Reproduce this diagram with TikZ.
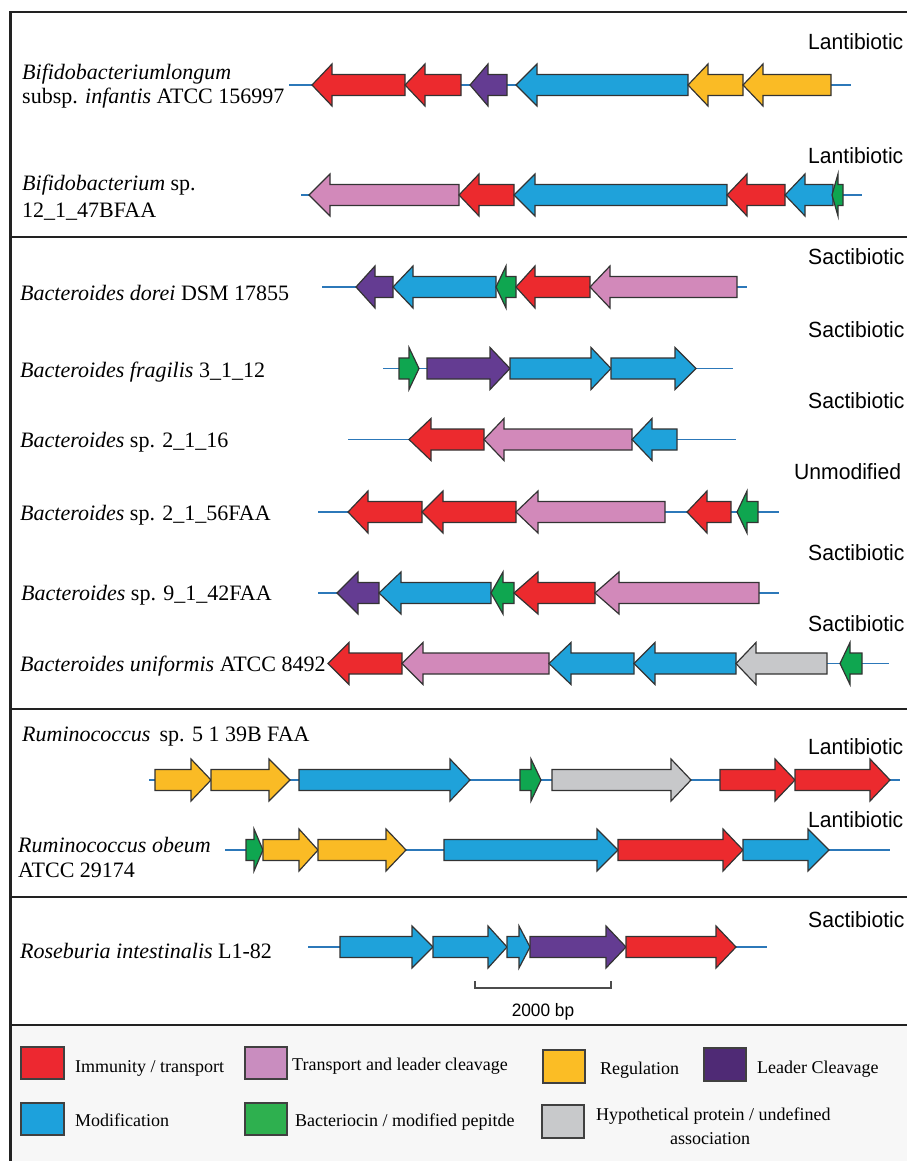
\documentclass[tikz,border=0pt]{standalone}
\usepackage{fontspec}
\usetikzlibrary{calc}
\setmainfont{Liberation Serif}
\newfontfamily\lblfont[FakeStretch=0.96]{Liberation Sans}
\definecolor{gRed}{HTML}{EC2A2E}
\definecolor{gBlue}{HTML}{1FA2DA}
\definecolor{gYellow}{HTML}{FABB25}
\definecolor{gPurple}{HTML}{643C92}
\definecolor{gPink}{HTML}{D289BA}
\definecolor{gGreen}{HTML}{0FA650}
\definecolor{gGray}{HTML}{C7C8CA}
\definecolor{kRed}{HTML}{ED2830}
\definecolor{kPink}{HTML}{C98DBF}
\definecolor{kYellow}{HTML}{FBBD25}
\definecolor{kPurple}{HTML}{4F2A75}
\definecolor{kBlue}{HTML}{1DA1DC}
\definecolor{kGreen}{HTML}{2EB04F}
\definecolor{kGray}{HTML}{C8C9CB}
\definecolor{dnaline}{HTML}{2C78B9}
\definecolor{framecol}{HTML}{222222}
\definecolor{legendbg}{HTML}{F7F7F7}
\tikzset{
  genestyle/.style={draw={black!80}, line width=1.2pt, line join=miter},
  dna/.style={draw=dnaline, line width=1.8pt},
  frameline/.style={draw=framecol, line width=2.6pt},
  species/.style={anchor=base west, inner sep=0pt, font=\fontsize{22}{24}\selectfont},
  classlbl/.style={anchor=base west, inner sep=0pt, font=\lblfont\fontsize{22}{24}\selectfont},
  legtext/.style={anchor=base west, inner sep=0pt, font=\fontsize{18}{20}\selectfont},
  legbox/.style={draw={black!75}, line width=1.2pt},
}
% #1 colour, #2 tail x, #3 head base x, #4 tip x, #5 y
\newcommand\genearrow[5]{\draw[genestyle,fill=#1] (#2,#5-10.5) -- (#3,#5-10.5) -- (#3,#5-21) -- (#4,#5) -- (#3,#5+21) -- (#3,#5+10.5) -- (#2,#5+10.5) -- cycle;}
\begin{document}
\begin{tikzpicture}[x=1pt,y=-1pt]
\useasboundingbox (0,0) rectangle (907,1161);
% legend background
\fill[legendbg] (10,1025) rectangle (907,1161);
% frame
\draw[frameline] (10.5,1161) -- (10.5,12) -- (907,12);
\draw[frameline] (10,237) -- (907,237);
\draw[frameline] (10,709) -- (907,709);
\draw[frameline] (10,897) -- (907,897);
\draw[frameline] (10,1025) -- (907,1025);

% ---------- Row 1 ----------
\node[species] (s1a) at (22,80) {\textit{Bifidobacteriumlongum}};
\node[species] (s1b) at (22,104) {subsp. \textit{infantis} ATCC 156997};
\node[classlbl] (c1) at (808,50) {Lantibiotic};
\draw[dna] (289,85) -- (851,85);
\genearrow{gRed}{405}{332}{312}{85}
\genearrow{gRed}{461}{425}{405}{85}
\genearrow{gPurple}{507}{488}{470}{85}
\genearrow{gBlue}{688}{537}{516}{85}
\genearrow{gYellow}{743}{708}{688}{85}
\genearrow{gYellow}{831}{763}{743}{85}

% ---------- Row 2 ----------
\node[species] (s2a) at (22,191) {\textit{Bifidobacterium} sp.};
\node[species] (s2b) at (22,217) {12\_1\_47BFAA};
\node[classlbl] (c2) at (808,164) {Lantibiotic};
\draw[dna] (301,195) -- (862,195);
\genearrow{gPink}{459}{330}{309}{195}
\genearrow{gRed}{514}{479}{459}{195}
\genearrow{gBlue}{727}{535}{514}{195}
\genearrow{gRed}{785}{747}{727}{195}
\genearrow{gBlue}{833}{805}{785}{195}
\genearrow{gGreen}{843}{838}{832}{195}

% ---------- Row 3 ----------
\node[species] (s3) at (20,300) {\textit{Bacteroides dorei} DSM 17855};
\node[classlbl] (c3) at (808,264) {Sactibiotic};
\draw[dna] (322,287) -- (747,287);
\genearrow{gPurple}{393}{375}{356}{287}
\genearrow{gBlue}{496}{413}{393}{287}
\genearrow{gGreen}{516}{506}{496}{287}
\genearrow{gRed}{590}{535}{516}{287}
\genearrow{gPink}{737}{610}{590}{287}

% ---------- Row 4 ----------
\node[species] (s4) at (20,377) {\textit{Bacteroides fragilis} 3\_1\_12};
\node[classlbl] (c4) at (808,337) {Sactibiotic};
\draw[dna] (383,368.5) -- (733,368.5);
\genearrow{gGreen}{399}{409}{419}{368.5}
\genearrow{gPurple}{427}{490}{510}{368.5}
\genearrow{gBlue}{510}{591}{611}{368.5}
\genearrow{gBlue}{611}{675}{696}{368.5}

% ---------- Row 5 ----------
\node[species] (s5) at (20,447) {\textit{Bacteroides} sp. 2\_1\_16};
\node[classlbl] (c5) at (808,408) {Sactibiotic};
\draw[dna] (348,439.5) -- (736,439.5);
\genearrow{gRed}{484}{431}{409}{439.5}
\genearrow{gPink}{632}{504}{484}{439.5}
\genearrow{gBlue}{677}{652}{632}{439.5}

% ---------- Row 6 ----------
\node[species] (s6) at (20,520) {\textit{Bacteroides} sp. 2\_1\_56FAA};
\node[classlbl] (c6) at (794,479) {Unmodified};
\draw[dna] (318,512) -- (779,512);
\genearrow{gRed}{422}{368}{348}{512}
\genearrow{gRed}{516}{443}{422}{512}
\genearrow{gPink}{665}{538}{516}{512}
\genearrow{gRed}{731}{707}{687}{512}
\genearrow{gGreen}{758}{747}{737}{512}

% ---------- Row 7 ----------
\node[species] (s7) at (21,600) {\textit{Bacteroides} sp. 9\_1\_42FAA};
\node[classlbl] (c7) at (808,560) {Sactibiotic};
\draw[dna] (318,593) -- (779,593);
\genearrow{gPurple}{379}{358}{337}{593}
\genearrow{gBlue}{491}{401}{379}{593}
\genearrow{gGreen}{514}{503}{491}{593}
\genearrow{gRed}{595}{538}{514}{593}
\genearrow{gPink}{759}{619}{595}{593}

% ---------- Row 8 ----------
\node[species] (s8) at (20,671) {\textit{Bacteroides uniformis} ATCC 8492};
\node[classlbl] (c8) at (808,631) {Sactibiotic};
\draw[dna] (330,663.5) -- (889,663.5);
\genearrow{gRed}{402}{349}{328}{663.5}
\genearrow{gPink}{549}{423}{402}{663.5}
\genearrow{gBlue}{634}{571}{549}{663.5}
\genearrow{gBlue}{736}{655}{634}{663.5}
\genearrow{gGray}{827}{756}{736}{663.5}
\genearrow{gGreen}{862}{850}{840}{663.5}

% ---------- Row 9 ----------
\node[species] (s9) at (22,741) {\textit{Ruminococcus}\, sp. 5 1 39B FAA};
\node[classlbl] (c9) at (808,754) {Lantibiotic};
\draw[dna] (149,780) -- (900,780);
\genearrow{gYellow}{155}{191}{211}{780}
\genearrow{gYellow}{211}{269}{290}{780}
\genearrow{gBlue}{299}{450}{470}{780}
\genearrow{gGreen}{520}{531}{541}{780}
\genearrow{gGray}{552}{671}{691}{780}
\genearrow{gRed}{720}{775}{795}{780}
\genearrow{gRed}{795}{870}{890}{780}

% ---------- Row 10 ----------
\node[species] (s10a) at (18,852) {\textit{Ruminococcus obeum}};
\node[species] (s10b) at (18,877) {ATCC 29174};
\node[classlbl] (c10) at (808,827) {Lantibiotic};
\draw[dna] (225,850) -- (890,850);
\genearrow{gGreen}{246}{254}{263}{850}
\genearrow{gYellow}{263}{299}{318}{850}
\genearrow{gYellow}{318}{386}{406}{850}
\genearrow{gBlue}{444}{597}{618}{850}
\genearrow{gRed}{618}{723}{743}{850}
\genearrow{gBlue}{743}{808}{829}{850}

% ---------- Row 11 ----------
\node[species] (s11) at (20,958) {\textit{Roseburia intestinalis} L1-82};
\node[classlbl] (c11) at (808,927) {Sactibiotic};
\draw[dna] (308,947) -- (767,947);
\genearrow{gBlue}{340}{412}{433}{947}
\genearrow{gBlue}{433}{488}{507}{947}
\genearrow{gBlue}{507}{519}{530}{947}
\genearrow{gPurple}{530}{606}{626}{947}
\genearrow{gRed}{626}{716}{736}{947}

% scale bar
\coordinate (sbl) at (475,988);
\coordinate (sbr) at (611,988);
\draw[draw=black!70, line width=1.5pt] ($(sbl)+(0,-7)$) -- (sbl) -- (sbr) -- ($(sbr)+(0,-7)$);
\node[anchor=base, inner sep=0pt, font=\lblfont\fontsize{18}{20}\selectfont] (sb) at (543,1016) {2000 bp};

% ---------- Legend ----------
\draw[legbox, fill=kRed] (21,1047) rectangle (64,1079);
\node[legtext] (k1) at (75,1072) {Immunity / transport};
\draw[legbox, fill=kPink] (245,1047) rectangle (287,1079);
\node[legtext] (k2) at (292,1070) {Transport and leader cleavage};
\draw[legbox, fill=kYellow] (543,1050) rectangle (585,1083);
\node[legtext] (k3) at (600,1074) {Regulation};
\draw[legbox, fill=kPurple] (704,1048) rectangle (746,1081);
\node[legtext] (k4) at (757,1073) {Leader Cleavage};
\draw[legbox, fill=kBlue] (21,1103) rectangle (64,1135);
\node[legtext] (k5) at (75,1126) {Modification};
\draw[legbox, fill=kGreen] (245,1103) rectangle (287,1135);
\node[legtext] (k6) at (295,1126) {Bacteriocin / modified pepitde};
\draw[legbox, fill=kGray] (542,1105) rectangle (584,1138);
\node[legtext] (k7a) at (596,1120) {Hypothetical protein / undefined};
\node[legtext, anchor=base] (k7b) at (710,1144) {association};
\end{tikzpicture}
\end{document}
